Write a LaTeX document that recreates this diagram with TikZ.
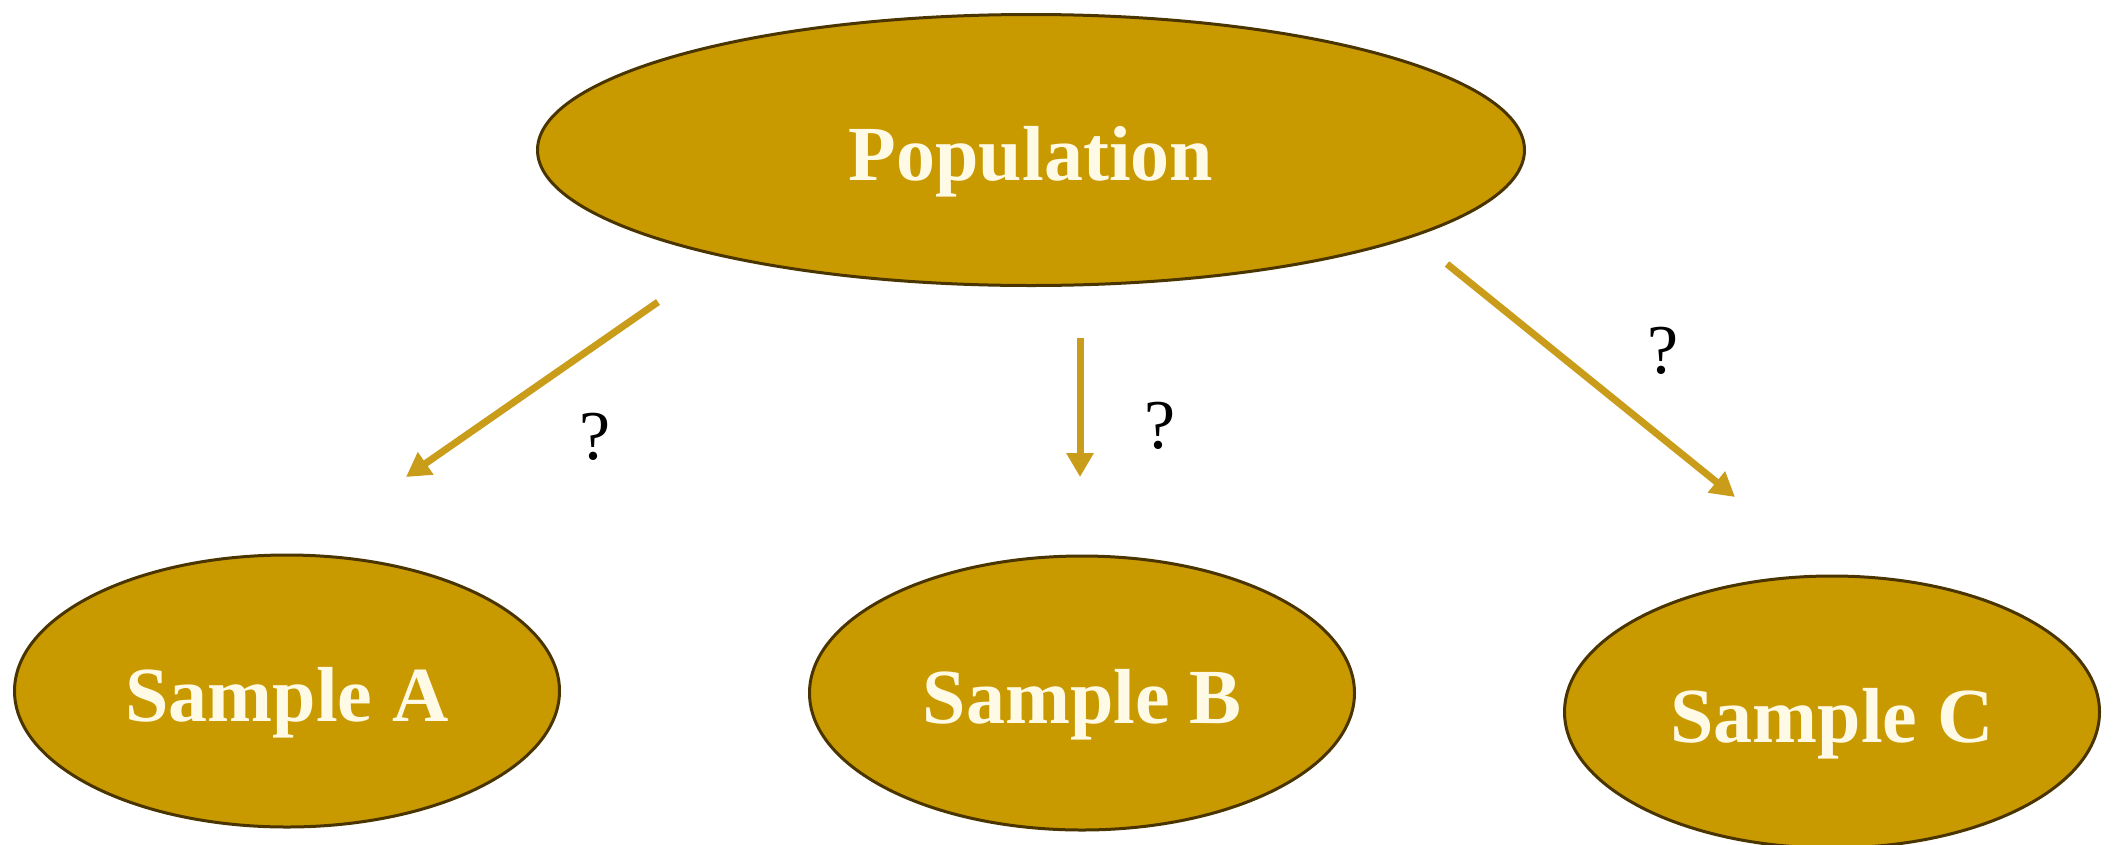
\documentclass[tikz,border=0pt]{standalone}
\usepackage{fontspec}
\setmainfont{Liberation Serif}
\usetikzlibrary{shapes.geometric,arrows.meta}
\definecolor{gold}{HTML}{C99A00}
\definecolor{goldedge}{HTML}{4A3500}
\definecolor{arrowgold}{HTML}{C99C1A}
\definecolor{cream}{HTML}{FFFAE6}
\begin{document}
\begin{tikzpicture}[x=1pt,y=-1pt,
  blob/.style={ellipse, draw=goldedge, line width=3pt, fill=gold, inner sep=0pt,
    text=cream, font=\fontsize{78}{84}\selectfont\bfseries, text height=78pt, text depth=17pt},
  link/.style={draw=arrowgold, line width=7pt, -{Triangle[length=24pt,width=26pt]}},
  qmark/.style={font=\fontsize{70}{76}\selectfont, text=black, inner sep=0pt}]
\useasboundingbox (0,0) rectangle (2115,844);
\fill[white] (0,0) rectangle (2115,844);

\node[blob, minimum width=987pt, minimum height=271pt] (pop) at (1031,150) {Population};
\node[blob, minimum width=545pt, minimum height=272pt] (sa) at (287,691) {Sample A};
\node[blob, minimum width=545pt, minimum height=274pt] (sb) at (1082,693) {Sample B};
\node[blob, minimum width=535pt, minimum height=272pt] (sc) at (1832,712) {Sample C};

\coordinate (a0) at (658,302);
\coordinate (a1) at (406,477);
\coordinate (b0) at (1080,338);
\coordinate (b1) at (1080,477);
\coordinate (c0) at (1447,264);
\coordinate (c1) at (1735,497);

\draw[link] (a0) -- (a1);
\draw[link] (b0) -- (b1);
\draw[link] (c0) -- (c1);

\node[qmark] (qa) at (595,437) {?};
\node[qmark] (qb) at (1160,426) {?};
\node[qmark] (qc) at (1663,351) {?};
\end{tikzpicture}
\end{document}
